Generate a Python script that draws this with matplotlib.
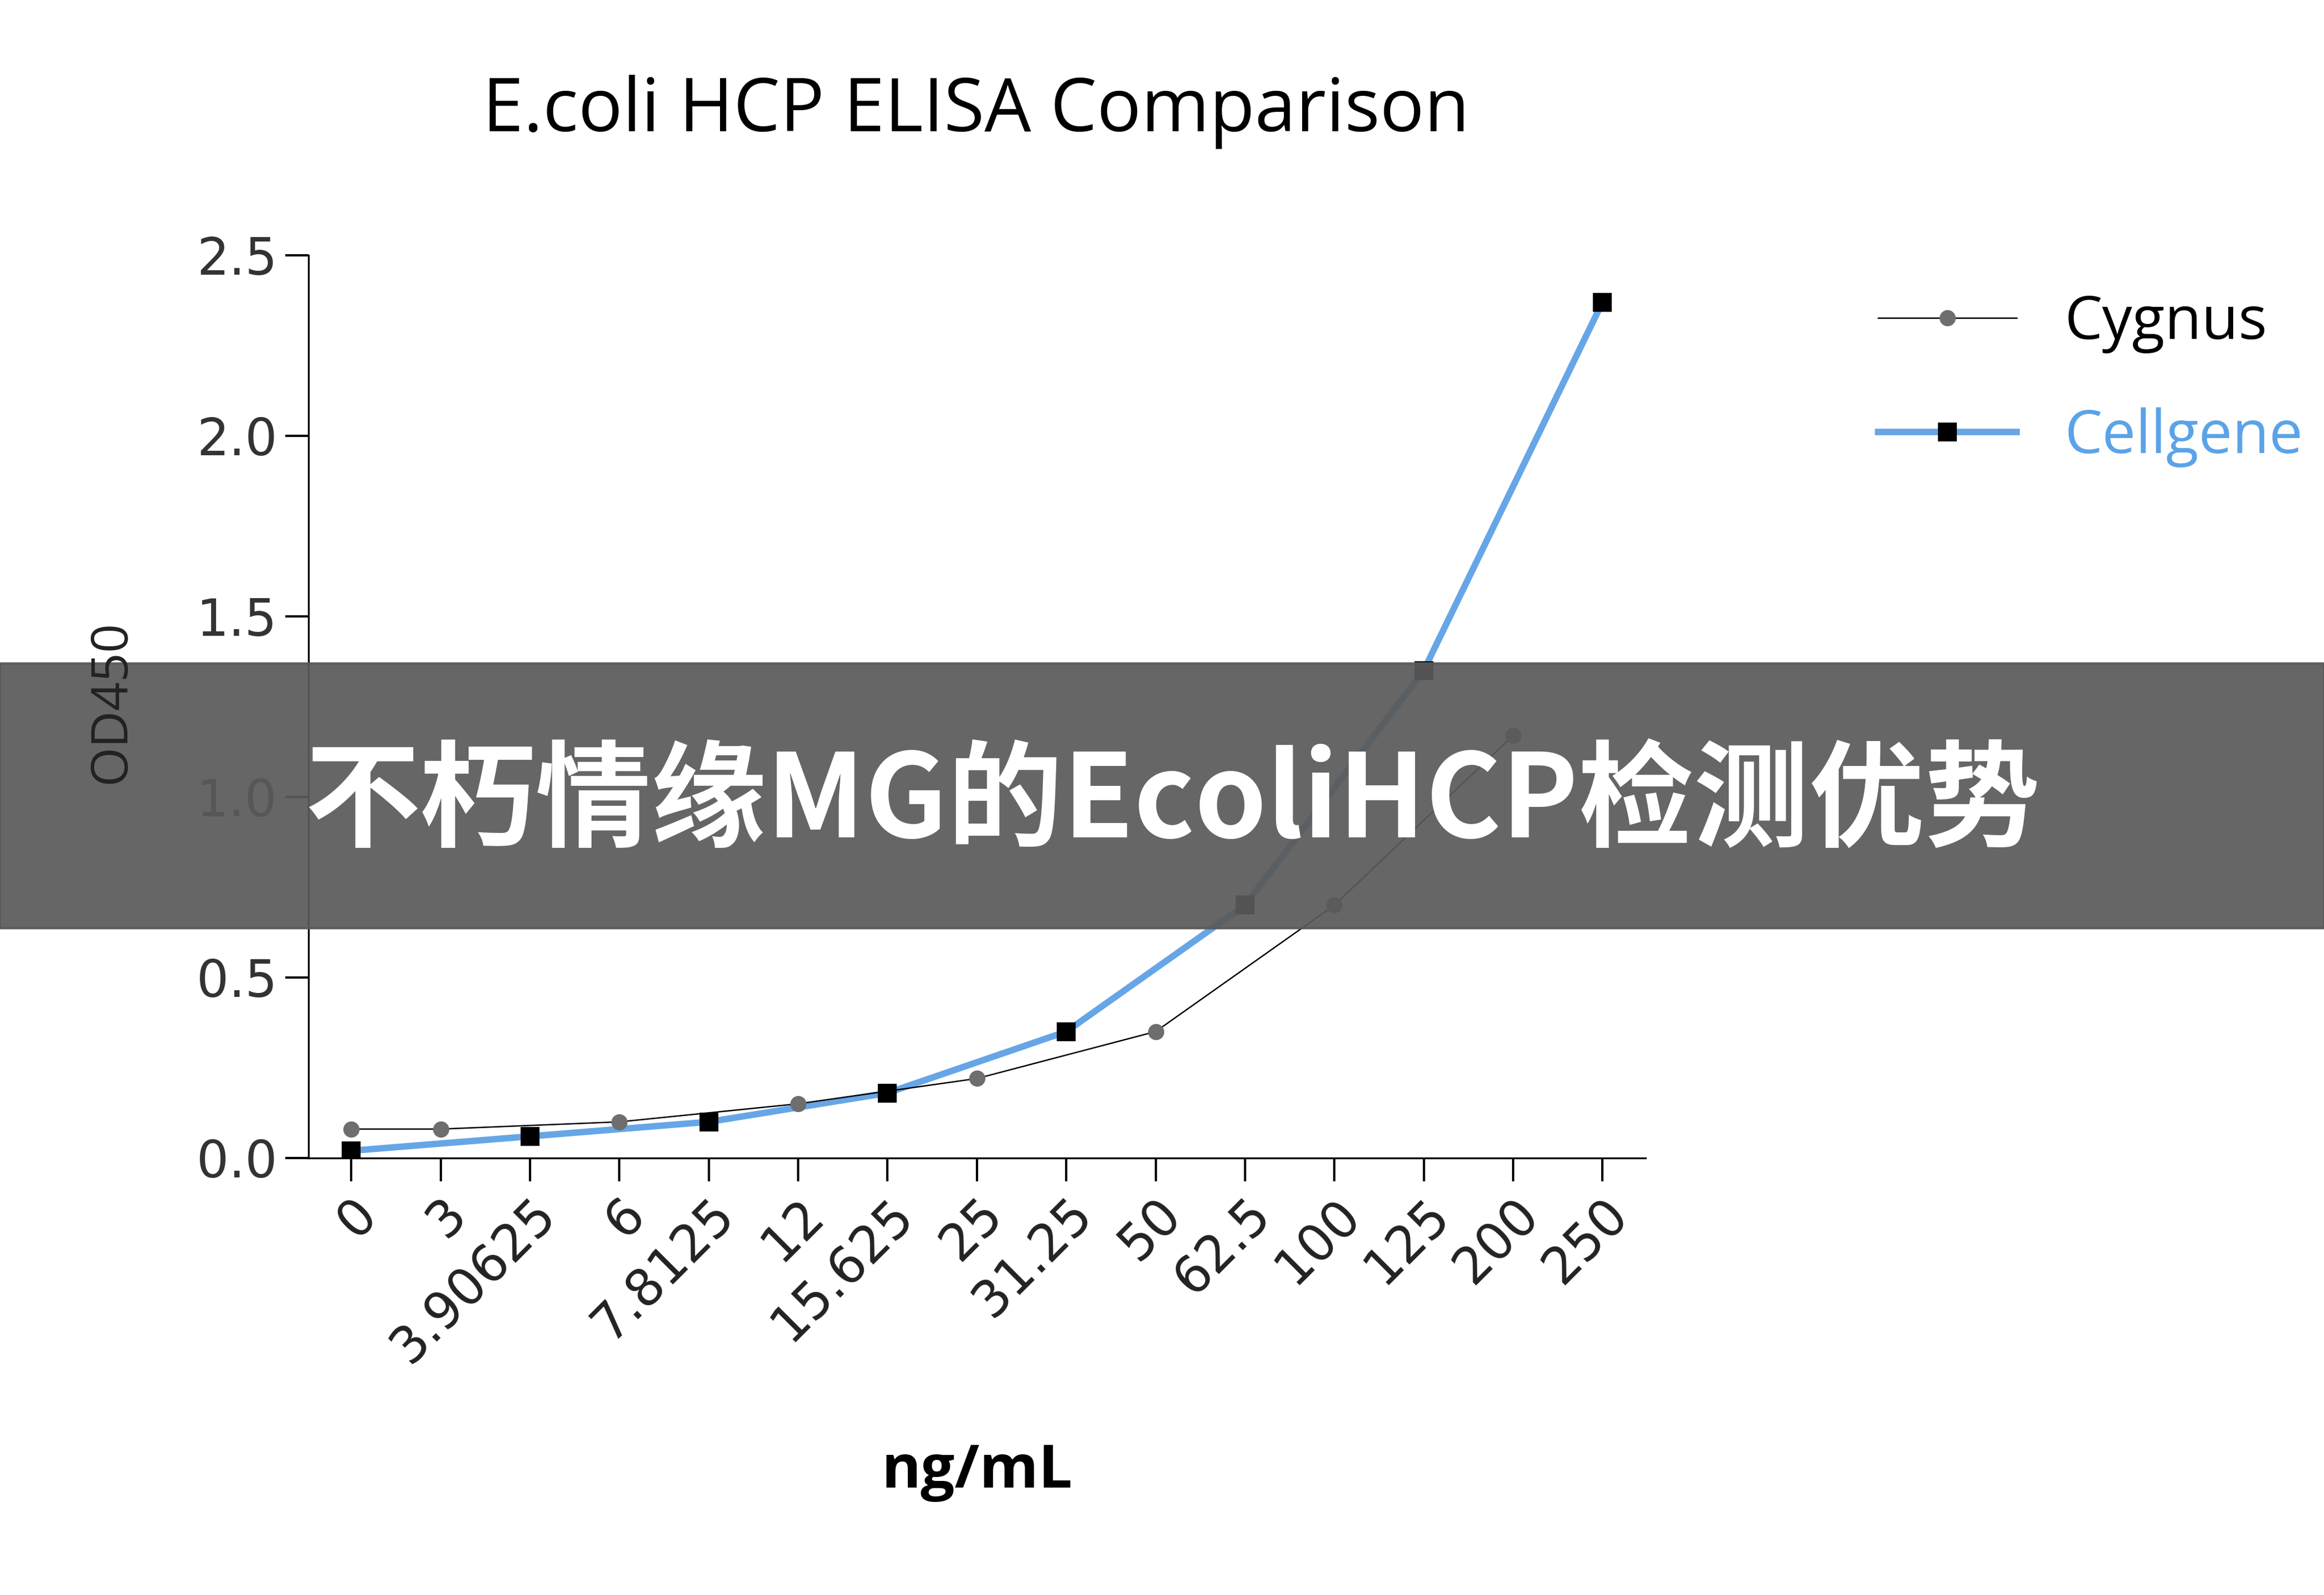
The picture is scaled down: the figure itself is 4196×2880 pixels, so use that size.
import matplotlib
matplotlib.use("Agg")
import matplotlib.pyplot as plt
from matplotlib.lines import Line2D

categories = ["0", "3", "3.90625", "6", "7.8125", "12", "15.625", "25", "31.25",
              "50", "62.5", "100", "125", "200", "250"]
cygnus_cats = ["0", "3", "6", "12", "25", "50", "100", "200"]
cygnus_vals = [0.08, 0.08, 0.10, 0.15, 0.22, 0.35, 0.70, 1.17]
cell_cats = ["0", "3.90625", "7.8125", "15.625", "31.25", "62.5", "125", "250"]
cell_vals = [0.02, 0.06, 0.10, 0.18, 0.35, 0.70, 1.35, 2.37]

idx = {c: i for i, c in enumerate(categories)}
fig = plt.figure(figsize=(4196/300, 2880/300), dpi=300)
ax = fig.add_axes([0.1327, 0.274, 0.5753, 0.566])

ax.plot([idx[c] for c in cell_cats], cell_vals, color="#66A6E6", lw=2.8,
        marker="s", ms=7, mfc="black", mec="black", zorder=3)
ax.plot([idx[c] for c in cygnus_cats], cygnus_vals, color="black", lw=0.6,
        marker="o", ms=6, mfc="#6e6e6e", mec="#6e6e6e", zorder=4)

ax.set_xlim(-0.48, 14.48)
ax.set_ylim(0, 2.5)
ax.set_yticks([0, 0.5, 1.0, 1.5, 2.0, 2.5])
ax.set_yticklabels(["0.0", "0.5", "1.0", "1.5", "2.0", "2.5"], fontsize=22, color="#333333")
ax.set_xticks(range(len(categories)))
ax.set_xticklabels(categories, rotation=45, ha="right", rotation_mode="anchor", fontsize=22, color="#222222")
for s in ["top", "right"]:
    ax.spines[s].set_visible(False)
ax.tick_params(direction="out", length=10, width=1)
ax.set_xlabel("ng/mL", fontsize=26, fontweight="bold", family="Open Sans", labelpad=30)
fig.text(0.048, 0.56, "OD450", rotation=90, ha="center", va="center", fontsize=22,
         family="Open Sans", color="#222222", zorder=12)
fig.text(0.42, 0.93, "E.coli HCP ELISA Comparison", ha="center", va="center",
         fontsize=32, family="Open Sans")

handles = [Line2D([], [], color="black", lw=0.6, marker="o", ms=6, mfc="#6e6e6e", mec="#6e6e6e"),
           Line2D([], [], color="#66A6E6", lw=2.8, marker="s", ms=7, mfc="black", mec="black")]
fig.legend(handles, ["Cygnus", "Cellgene"], loc="upper left", bbox_to_anchor=(0.785, 0.85),
           frameon=False, handlelength=2.3, labelspacing=0.9,
           labelcolor=["black", "#5BA3E8"], prop={"family": "Open Sans", "size": 26})

fig.patches.append(plt.Rectangle((0, 0.418), 1, 0.166, transform=fig.transFigure,
                                 color="#5a5a5a", alpha=0.93, zorder=10))
fig.text(0.131, 0.496, "不朽情缘MG的EcoliHCP检测优势", ha="left", va="center", color="white",
         fontsize=50, fontweight="bold", family=["Noto Sans CJK SC", "DejaVu Sans"], zorder=11)

fig.savefig("out.png", dpi=300)
